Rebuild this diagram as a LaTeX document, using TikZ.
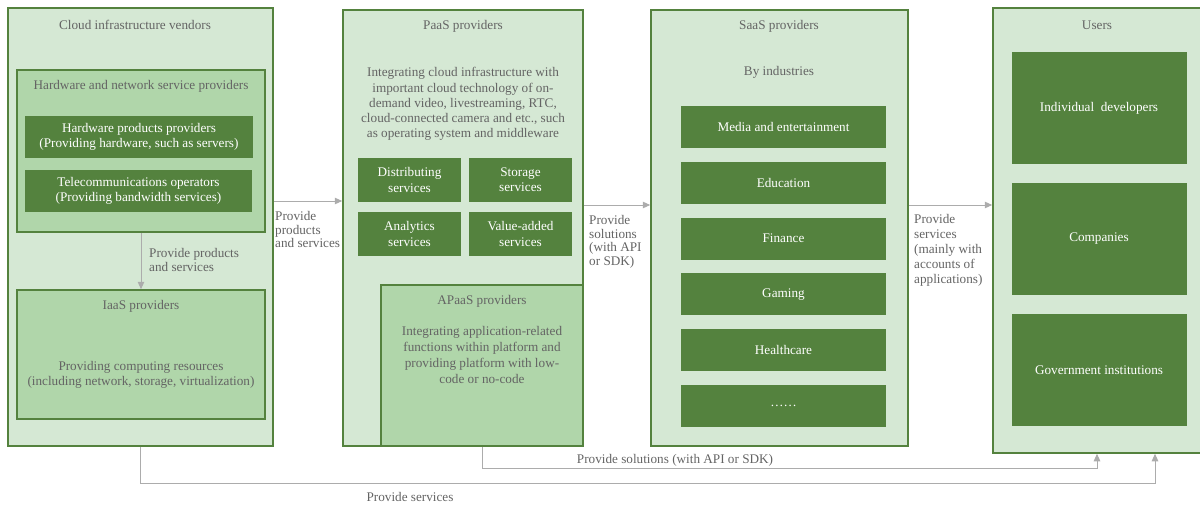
\documentclass[tikz,border=0pt]{standalone}
\usepackage{fontspec}
\setmainfont{Liberation Serif}
\usepackage{tikz}
\usetikzlibrary{arrows.meta,fit}
\usepackage{xcolor}
\definecolor{paleleaf}{RGB}{213,232,212}
\definecolor{midleaf}{RGB}{176,214,170}
\definecolor{darkleaf}{RGB}{84,130,62}
\definecolor{inkgray}{RGB}{100,100,100}
\definecolor{wiregray}{RGB}{172,172,172}
\newcommand{\panel}[6][outerpanel]{\node [#1, fit={(#3,#4) (#5,#6)}] (#2) {};}
\tikzset{
  outerpanel/.style={draw=darkleaf, fill=paleleaf, line width=1.5pt, inner sep=0pt},
  innerpanel/.style={draw=darkleaf, fill=midleaf, line width=1.5pt, inner sep=0pt},
  tile/.style={fill=darkleaf, text=white, align=center, inner sep=0pt},
  caption/.style={text=inkgray, align=center},
  flowlabel/.style={text=inkgray, align=left, font=\fontsize{13.2}{13.8}\selectfont, anchor=north west, inner sep=0pt},
  flow/.style={draw=wiregray, line width=1pt, -{Triangle[width=6.5pt,length=7.5pt]}},
}

\begin{document}
\begin{tikzpicture}[x=1pt, y=-1pt, font=\fontsize{13.2}{15.2}\selectfont]
  \useasboundingbox (0,0) rectangle (1200,504);

  % vendors column
  \panel{cloud}{8}{8}{273}{446}
  \panel[innerpanel]{hwnet}{17}{70}{265}{232}
  \panel[innerpanel]{iaas}{17}{290}{265}{419}
  \node[caption] (cloudtitle) at (135,25) {Cloud infrastructure vendors};
  \node[caption] (hwnettitle) at (141,86) {Hardware and network service providers};
  \node[tile, minimum width=228, minimum height=42] (hwprod) at (139,137)
    {Hardware products providers\\(Providing hardware, such as servers)};
  \node[tile, minimum width=227, minimum height=42] (telecom) at (138.5,191)
    {Telecommunications operators\\(Providing bandwidth services)};
  \node[caption] (iaastitle) at (141,306) {IaaS providers};
  \node[caption] (iaastext) at (141,375)
    {Providing computing resources\\(including network, storage, virtualization)};

  % platform column
  \panel{paas}{343}{10}{583}{446}
  \node[caption] (paastitle) at (463,26) {PaaS providers};
  \node[caption] (paastext) at (463,104)
    {Integrating cloud infrastructure with\\important cloud technology of on-\\demand video, livestreaming, RTC,\\cloud-connected camera and etc., such\\as operating system and middleware};
  \begin{scope}[every node/.append style={tile, minimum width=103, minimum height=44}]
    \node (distrib) at (409.5,180) {Distributing\\services};
    \node (storage) at (520.5,180) {Storage\\services};
    \node (analytics) at (409.5,234) {Analytics\\services};
    \node (valueadd) at (520.5,234) {Value-added\\services};
  \end{scope}
  \panel[innerpanel]{apaas}{381}{285}{583}{446}
  \node[caption] (apaastitle) at (482,301) {APaaS providers};
  \node[caption, font=\fontsize{13.2}{15.7}\selectfont] (apaastext) at (482,355)
    {Integrating application-related\\functions within platform and\\providing platform with low-\\code or no-code};

  % software column
  \panel{saas}{651}{10}{908}{446}
  \node[caption] (saastitle) at (779,26) {SaaS providers};
  \node[caption] (saassub) at (779,72) {By industries};
  \foreach \lab [count=\i] in {Media and entertainment, Education, Finance, Gaming, Healthcare, \ldots\ldots}
    \node[tile, minimum width=205, minimum height=42] (industry\i) at (783.5,{127+55.8*(\i-1)}) {\lab};

  % users column
  \panel{users}{993}{8}{1201}{453}
  \node[caption] (userstitle) at (1097,25) {Users};
  \foreach \lab [count=\i] in {Individual\ \ developers, Companies, Government institutions}
    \node[tile, minimum width=175, minimum height=112] (user\i) at (1099,{108+131*(\i-1)}) {\lab};

  % flows
  \draw[flow] (hwnet.south) -- (iaas.north);
  \node[flowlabel] (hwlabel) at (149,248) {Provide products\\and services};
  \draw[flow] (cloud.east |- 0,201) -- (paas.west |- 0,201);
  \node[flowlabel] (cloudlabel) at (275,211) {Provide\\products\\and services};
  \draw[flow] (paas.east |- 0,205) -- (saas.west |- 0,205);
  \node[flowlabel] (paaslabel) at (589,215) {Provide\\solutions\\(with API\\or SDK)};
  \draw[flow] (saas.east |- 0,205) -- (users.west |- 0,205);
  \node[flowlabel, font=\fontsize{13.2}{15}\selectfont] (saaslabel) at (914,214)
    {Provide\\services\\(mainly with\\accounts of\\applications)};
  \draw[flow] (apaas.south) -- (apaas.south |- 0,468) -| (users.south);
  \node[caption] (apaaslabel) at (675,460) {Provide solutions (with API or SDK)};
  \draw[flow] (cloud.south) -- (cloud.south |- 0,483) -| ([xshift=58pt]users.south);
  \node[caption] (cloudlink) at (410,497) {Provide services};
\end{tikzpicture}
\end{document}
